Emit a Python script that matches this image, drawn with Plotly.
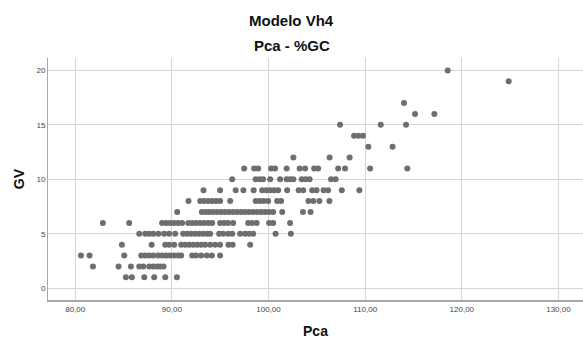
import plotly.graph_objects as go

# Pca values grouped by their GV score (GV is an integer count)
pca_gv1 = [85.24, 85.86, 87.14, 88.17, 89.31, 90.52]
pca_gv2 = [81.83, 84.48, 85.76, 86.62, 87.03, 87.65, 88.07, 88.48, 88.79, 89.13]
pca_gv3 = [80.59, 81.48, 85.07, 86.83, 87.24, 87.65, 88.07, 88.58, 89.00, 89.41,
           89.82, 90.24, 90.65, 90.96, 92.10, 92.51, 93.03, 93.62, 94.14, 94.99]
pca_gv4 = [84.83, 87.91, 89.31, 89.72, 90.24, 90.96, 91.38, 91.79, 92.20, 92.62,
           93.03, 93.45, 93.96, 94.48, 94.99, 95.85, 96.29, 98.10]
pca_gv5 = [86.62, 87.24, 87.65, 88.07, 88.61, 89.20, 89.72, 90.34, 91.17, 91.58,
           91.99, 92.41, 92.82, 93.24, 93.65, 93.96, 94.89, 95.30, 95.82, 96.24,
           97.06, 97.58, 97.99, 98.41, 100.73, 102.31]
pca_gv6 = [82.86, 85.58, 88.99, 89.41, 89.82, 90.24, 90.65, 91.06, 91.69, 92.10,
           92.51, 92.93, 93.34, 93.76, 94.17, 94.99, 95.40, 95.82, 96.34, 97.89,
           98.31, 98.77, 100.06, 100.48, 102.23]
pca_gv7 = [90.55, 93.10, 93.50, 93.86, 94.27, 94.68, 95.10, 95.51, 95.92, 96.34,
           96.75, 97.17, 97.58, 97.99, 98.41, 98.82, 99.24, 99.65, 100.06, 100.48,
           101.42, 103.56, 104.35]
pca_gv8 = [91.72, 92.93, 93.34, 93.76, 94.17, 94.58, 94.99, 96.03, 98.67, 99.08,
           99.49, 99.96, 100.89, 101.30, 104.13, 104.64, 105.26, 106.30]
pca_gv9 = [93.27, 94.99, 96.60, 97.40, 98.46, 99.34, 99.76, 100.17, 100.58, 101.00,
           101.93, 103.12, 103.59, 104.52, 104.97, 105.70, 106.16, 107.58, 109.40]
pca_gv10 = [96.24, 98.67, 99.08, 99.44, 100.17, 101.20, 101.87, 102.23, 102.57,
            103.44, 103.84, 104.25, 106.47, 106.94]
pca_gv11 = [97.48, 98.51, 98.93, 100.27, 100.68, 101.87, 103.22, 103.78, 104.72,
            105.13, 107.20, 107.92, 110.51, 114.36]
pca_gv12 = [102.57, 106.32, 108.39]
pca_gv13 = [110.33, 112.83]
pca_gv14 = [108.85, 109.31, 109.78]
pca_gv15 = [107.40, 111.61, 114.23]
pca_gv16 = [115.16, 117.16]
pca_gv17 = [114.02]
pca_gv19 = [124.85]
pca_gv20 = [118.54]

groups = {
    1: pca_gv1, 2: pca_gv2, 3: pca_gv3, 4: pca_gv4, 5: pca_gv5, 6: pca_gv6,
    7: pca_gv7, 8: pca_gv8, 9: pca_gv9, 10: pca_gv10, 11: pca_gv11,
    12: pca_gv12, 13: pca_gv13, 14: pca_gv14, 15: pca_gv15, 16: pca_gv16,
    17: pca_gv17, 19: pca_gv19, 20: pca_gv20,
}

x_ticks = [80, 90, 100, 110, 120, 130]
x_tick_labels = ["80,00", "90,00", "100,00", "110,00", "120,00", "130,00"]
y_ticks = [0, 5, 10, 15, 20]
y_tick_labels = ["0", "5", "10", "15", "20"]

pca = []
gv = []
for score, values in groups.items():
    for v in values:
        pca.append(v)
        gv.append(score)

font_family = "Liberation Sans, Arial, sans-serif"

fig = go.Figure()
fig.add_trace(go.Scatter(
    x=pca, y=gv, mode="markers",
    marker=dict(size=6, color="#6e6e6e", line=dict(width=0)),
    showlegend=False,
))

grid_col = "#d6d6d6"
fig.update_xaxes(
    range=[77.18, 132.54],
    tickvals=x_ticks, ticktext=x_tick_labels,
    showgrid=True, gridcolor=grid_col, gridwidth=1,
    zeroline=False,
    showline=True, linecolor="#a8a8a8", linewidth=2,
    ticks="", tickfont=dict(size=8, color="#444444", family=font_family),
    title=dict(text="<b>Pca</b>", font=dict(size=14, color="#111111", family=font_family),
               standoff=14),
)
fig.update_yaxes(
    range=[-1.08, 21.14],
    tickvals=y_ticks, ticktext=y_tick_labels,
    showgrid=True, gridcolor=grid_col, gridwidth=1,
    zeroline=False,
    showline=True, linecolor="#a8a8a8", linewidth=1,
    ticks="", tickfont=dict(size=8, color="#444444", family=font_family),
    title=dict(text="<b>GV</b>", font=dict(size=14, color="#111111", family=font_family),
               standoff=8),
)

fig.add_annotation(text="<b>Modelo Vh4</b>", xref="paper", yref="paper",
                   x=0.4557, y=1.157, xanchor="center", yanchor="middle",
                   showarrow=False, font=dict(size=15, color="#111111", family=font_family))
fig.add_annotation(text="<b>Pca - %GC</b>", xref="paper", yref="paper",
                   x=0.4557, y=1.05, xanchor="center", yanchor="middle",
                   showarrow=False, font=dict(size=15, color="#111111", family=font_family))

fig.update_layout(
    width=583, height=345,
    margin=dict(l=48, r=0, t=58, b=45),
    paper_bgcolor="white", plot_bgcolor="white",
    font=dict(family=font_family),
)

fig.write_html("out.html")
